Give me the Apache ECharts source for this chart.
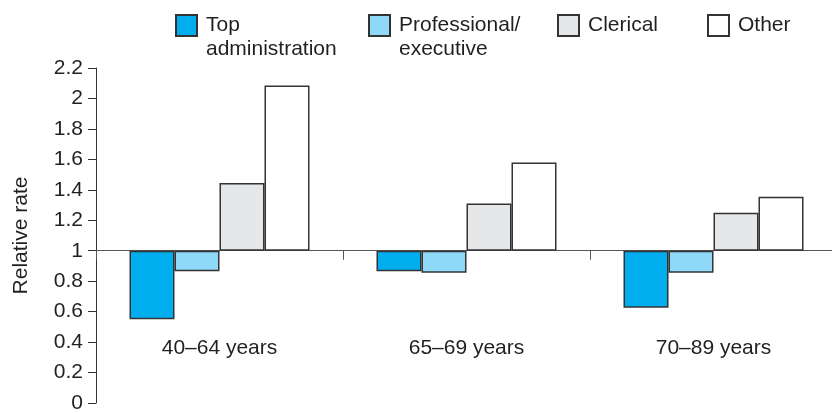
<!DOCTYPE html>
<html>
<head>
<meta charset="utf-8">
<script src="https://cdn.jsdelivr.net/npm/echarts@6/dist/echarts.min.js"></script>
<style>html,body{margin:0;padding:0;background:#fff}#c{width:832px;height:413px}</style>
</head>
<body>
<div id="c"></div>
<script>
var categories = ['40\u201364 years', '65\u201369 years', '70\u201389 years'];
var seriesNames = ['Top\nadministration', 'Professional/\nexecutive', 'Clerical', 'Other'];
var topAdmin = [0.55, 0.865, 0.625];
var professional = [0.865, 0.855, 0.855];
var clerical = [1.445, 1.31, 1.25];
var other = [2.085, 1.58, 1.355];
var yTicks = [0, 0.2, 0.4, 0.6, 0.8, 1, 1.2, 1.4, 1.6, 1.8, 2, 2.2];
var baseline = 1;

var colors = ['#00aeef', '#8ed8f8', '#e6e7e8', '#ffffff'];
var values = [topAdmin, professional, clerical, other];
var font = 'Liberation Sans, Arial, Helvetica, sans-serif';
var textColor = '#231f20';

var chart = echarts.init(document.getElementById('c'), null, {renderer: 'canvas'});

var legendLefts = [175, 368, 557, 707];
var legends = seriesNames.map(function (n, i) {
  var multi = n.indexOf('\n') >= 0;
  return {
    data: [n],
    left: legendLefts[i],
    top: multi ? -10.5 : 13.5,
    padding: 0,
    itemWidth: 21,
    itemHeight: 21,
    icon: 'rect',
    selectedMode: false,
    formatter: function (name) { return multi ? '\u00a0\n' + name : name; },
    textStyle: {
      fontFamily: font, fontSize: 21, color: textColor, lineHeight: 24,
      padding: [0, 0, 0, 4]
    }
  };
});

var series = seriesNames.map(function (n, i) {
  return {
    name: n,
    type: 'bar',
    xAxisIndex: 0,
    yAxisIndex: 1,
    barWidth: 45,
    barGap: '0%',
    itemStyle: {color: colors[i], borderColor: '#333333', borderWidth: 1.5},
    data: values[i].map(function (v) { return +(v - baseline).toFixed(4); })
  };
});

chart.setOption({
  animation: false,
  legend: legends,
  grid: {left: 96, top: 68, width: 741, height: 335, containLabel: false, outerBoundsMode: 'none'},
  xAxis: [
    {
      type: 'category',
      data: categories,
      axisLine: {onZero: true, onZeroAxisIndex: 1, lineStyle: {color: '#555555', width: 1}},
      axisTick: {show: true, length: 9, lineStyle: {color: '#555555'}},
      axisLabel: {show: false},
      splitLine: {show: false}
    },
    {
      type: 'category',
      data: categories,
      position: 'bottom',
      axisLine: {show: false, onZero: false},
      axisTick: {show: false},
      axisLabel: {show: true, inside: true, margin: 44, fontFamily: font, fontSize: 21, color: textColor},
      splitLine: {show: false}
    }
  ],
  yAxis: [
    {
      type: 'value', min: 0, max: 2.2, interval: 0.2,
      name: 'Relative rate', nameLocation: 'middle', nameGap: 64,
      nameTextStyle: {fontFamily: font, fontSize: 21, color: textColor},
      axisLine: {show: true, lineStyle: {color: '#333333', width: 1}},
      axisTick: {show: true, length: 8, lineStyle: {color: '#333333'}},
      axisLabel: {margin: 13, fontFamily: font, fontSize: 21, color: textColor,
        formatter: function (v) {
          var m = yTicks.filter(function (t) { return Math.abs(t - v) < 1e-6; });
          return m.length ? String(m[0]) : '';
        }},
      splitLine: {show: false}
    },
    {
      type: 'value', min: -1, max: 1.2, show: false,
      splitLine: {show: false}
    }
  ],
  series: series
});
</script>
</body>
</html>
